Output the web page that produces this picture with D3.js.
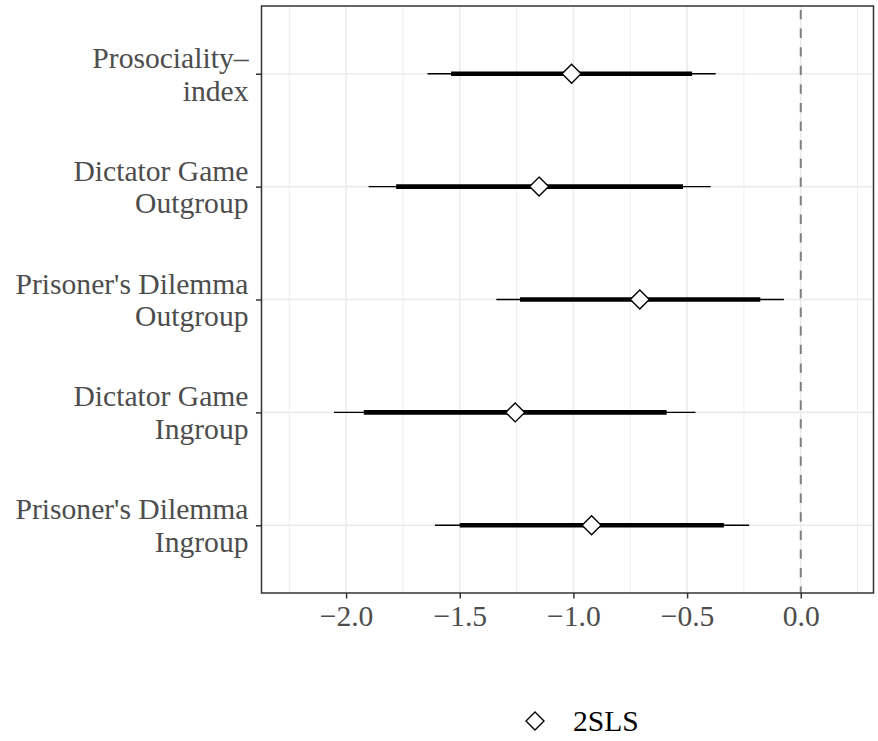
<!DOCTYPE html>
<html><head><meta charset="utf-8">
<script src="https://cdn.jsdelivr.net/npm/d3@7"></script>
<style>
html,body{margin:0;padding:0;background:#fff;}
svg{display:block;}
</style></head>
<body>
<script>
const categories = ["Prosociality–\nindex","Dictator Game\nOutgroup","Prisoner's Dilemma\nOutgroup","Dictator Game\nIngroup","Prisoner's Dilemma\nIngroup"];
const estimate = [-1.008,-1.151,-0.708,-1.256,-0.920];
const ciInnerLow = [-1.538,-1.780,-1.235,-1.922,-1.500];
const ciInnerHigh = [-0.478,-0.518,-0.178,-0.590,-0.338];
const ciOuterLow = [-1.642,-1.901,-1.339,-2.053,-1.609];
const ciOuterHigh = [-0.374,-0.396,-0.074,-0.463,-0.227];
const xTicks = [-2.0,-1.5,-1.0,-0.5,0.0];
const xMinorTicks = [-2.25,-1.75,-1.25,-0.75,-0.25,0.25];
const xDomain = [-2.372,0.320];
const legendLabel = "2SLS";

const W=878,H=741;
const P={left:261.5,right:873.5,top:6,bottom:593};
const font="'Liberation Serif','Times New Roman',serif";
const fs=29.6;

const svg=d3.select("body").append("svg").attr("width",W).attr("height",H);
const x=d3.scaleLinear().domain(xDomain).range([P.left,P.right]);
const y=d3.scalePoint().domain(categories).range([P.top,P.bottom]).padding(0.6);

// grid
const g=svg.append("g");
g.selectAll(".minor").data(xMinorTicks).join("line")
 .attr("x1",d=>x(d)).attr("x2",d=>x(d)).attr("y1",P.top).attr("y2",P.bottom)
 .attr("stroke","#EBEBEB").attr("stroke-width",0.9);
g.selectAll(".major").data(xTicks).join("line")
 .attr("x1",d=>x(d)).attr("x2",d=>x(d)).attr("y1",P.top).attr("y2",P.bottom)
 .attr("stroke","#EBEBEB").attr("stroke-width",1.6);
g.selectAll(".hmajor").data(categories).join("line")
 .attr("x1",P.left).attr("x2",P.right).attr("y1",d=>y(d)).attr("y2",d=>y(d))
 .attr("stroke","#EBEBEB").attr("stroke-width",1.6);

// zero line
svg.append("line").attr("x1",x(0)).attr("x2",x(0)).attr("y1",P.top).attr("y2",P.bottom)
 .attr("stroke","#7F7F7F").attr("stroke-width",2).attr("stroke-dasharray","9.3,9.3")
 .attr("stroke-dashoffset",-4);

const rows=categories.map((c,i)=>({c,est:estimate[i],il:ciInnerLow[i],ih:ciInnerHigh[i],ol:ciOuterLow[i],oh:ciOuterHigh[i]}));
svg.append("g").selectAll("line").data(rows).join("line")
 .attr("x1",d=>x(d.ol)).attr("x2",d=>x(d.oh)).attr("y1",d=>y(d.c)).attr("y2",d=>y(d.c))
 .attr("stroke","#000").attr("stroke-width",1.3);
svg.append("g").selectAll("line").data(rows).join("line")
 .attr("x1",d=>x(d.il)).attr("x2",d=>x(d.ih)).attr("y1",d=>y(d.c)).attr("y2",d=>y(d.c))
 .attr("stroke","#000").attr("stroke-width",4.6);
const diamond="M0,-9.5L9.5,0L0,9.5L-9.5,0Z";
svg.append("g").selectAll("path").data(rows).join("path")
 .attr("d",diamond).attr("transform",d=>`translate(${x(d.est)},${y(d.c)})`)
 .attr("fill","#fff").attr("stroke","#000").attr("stroke-width",1.4);

// panel border
svg.append("rect").attr("x",P.left).attr("y",P.top).attr("width",P.right-P.left).attr("height",P.bottom-P.top)
 .attr("fill","none").attr("stroke","#333333").attr("stroke-width",1.5);

// axes
const xAxis=svg.append("g").attr("transform",`translate(0,${P.bottom})`)
 .call(d3.axisBottom(x).tickValues(xTicks).tickFormat(d3.format(".1f")).tickSizeInner(5.5).tickSizeOuter(0).tickPadding(8));
xAxis.select(".domain").remove();
xAxis.selectAll(".tick line").attr("stroke","#333333").attr("stroke-width",1.5);
xAxis.selectAll(".tick text").attr("font-family",font).attr("font-size",fs).attr("fill","#4D4D4D")
 .attr("dy",null).attr("y",32.5);

const yAxis=svg.append("g").attr("transform",`translate(${P.left},0)`)
 .call(d3.axisLeft(y).tickSizeInner(5.5).tickSizeOuter(0).tickPadding(8));
yAxis.select(".domain").remove();
yAxis.selectAll(".tick line").attr("stroke","#333333").attr("stroke-width",1.5);
yAxis.selectAll(".tick text").each(function(d){
  const t=d3.select(this).text(null).attr("font-family",font).attr("font-size",fs)
    .attr("fill","#4D4D4D").attr("dy",null).attr("x",-13).attr("y",0);
  const lines=d.split("\n");
  lines.forEach((ln,i)=>t.append("tspan").attr("x",-13).attr("y",i===0?-6.5:26.3).text(ln));
});

// legend
const lg=svg.append("g").attr("transform","translate(535,721)");
lg.append("path").attr("d","M0,-9L9,0L0,9L-9,0Z").attr("fill","#fff").attr("stroke","#000").attr("stroke-width",1.4);
lg.append("text").attr("x",38).attr("y",9.5).attr("font-family",font).attr("font-size",fs).attr("fill","#000").text(legendLabel);
</script>
</body></html>
